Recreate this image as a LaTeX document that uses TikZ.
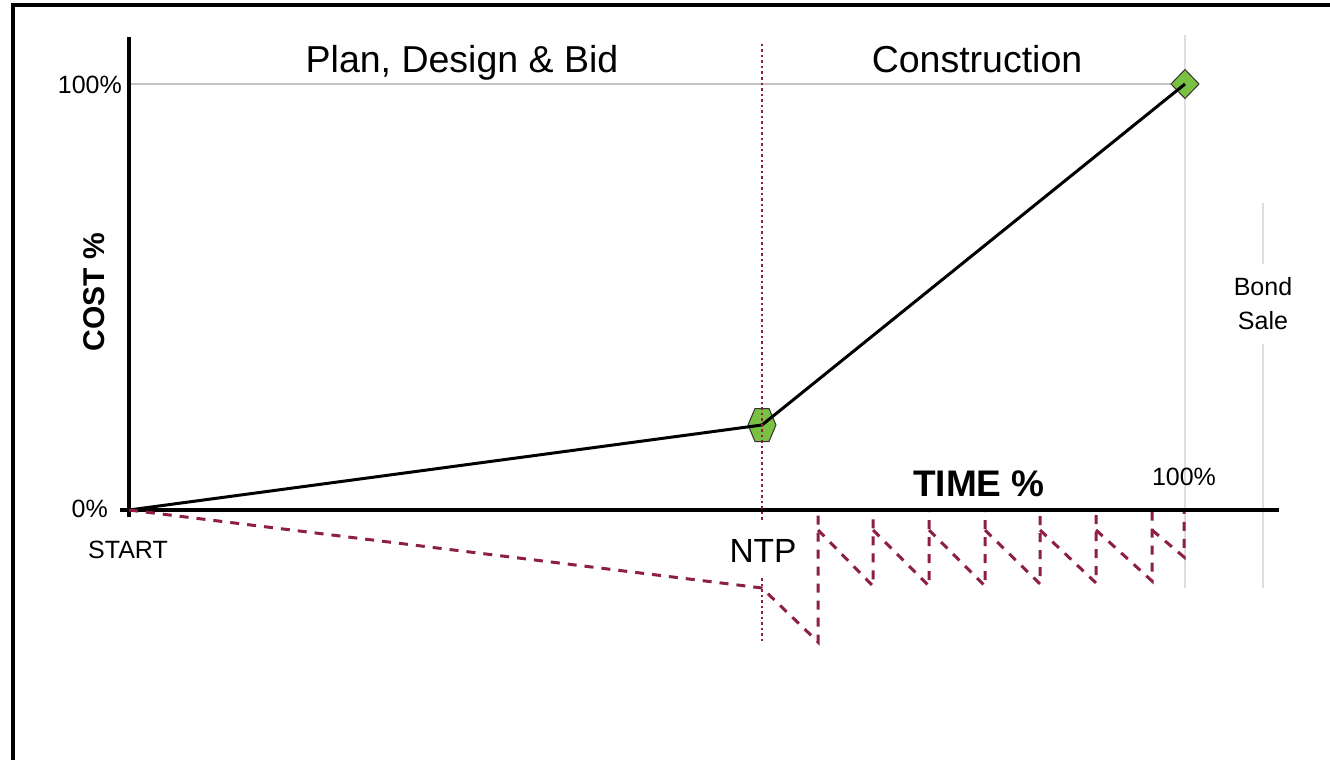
\documentclass[tikz,border=0pt]{standalone}
\usepackage{fontspec}
\setmainfont{Liberation Sans}
\definecolor{cashred}{RGB}{140,30,72}
\definecolor{mkgreen}{RGB}{122,193,67}
\definecolor{gridgray}{RGB}{196,196,196}
\definecolor{lightgray}{RGB}{222,222,222}
\begin{document}
\begin{tikzpicture}[x=1pt,y=-1pt,
  frame/.style={line width=3.5pt,black},
  axisline/.style={line width=3.2pt,black},
  gridline/.style={line width=2.2pt,gridgray},
  faintline/.style={line width=2.8pt,lightgray},
  dataline/.style={line width=3pt,black},
  ntpline/.style={line width=2.5pt,cashred,dash pattern=on 2.5pt off 3pt},
  cash/.style={line width=3pt,cashred,dash pattern=on 9pt off 8pt},
  marker/.style={fill=mkgreen,draw=black!80,line width=1pt,line join=miter},
  small/.style={font=\fontsize{25}{30}\selectfont,inner sep=0pt},
  phase/.style={font=\fontsize{37.5}{45}\selectfont,inner sep=0pt},
  axislabel/.style={font=\bfseries\fontsize{37}{44}\selectfont,inner sep=0pt}]
\useasboundingbox (0,0) rectangle (1330,760);
\fill[white] (0,0) rectangle (1330,760);
% frame
\draw[frame] (13,780) -- (13,5) -- (1350,5);
% key points
\coordinate (o) at (129,510);
\coordinate (ntp) at (762,425);
\coordinate (fin) at (1185,84);
\coordinate (yTop) at (129,37);
\coordinate (yBot) at (129,517);
\coordinate (xL) at (120,510);
\coordinate (xR) at (1279,510);
\coordinate (hundL) at (129,84);
\coordinate (endTop) at (1185,35);
\coordinate (endBot) at (1185,588);
\coordinate (bondTop) at (1263,203);
\coordinate (bondMidA) at (1263,264);
\coordinate (bondMidB) at (1263,344);
\coordinate (bondBot) at (1263,588);
\coordinate (ntpTop) at (762,44);
\coordinate (ntpGapA) at (762,522);
\coordinate (ntpGapB) at (762,578);
\coordinate (ntpBot) at (762,643);
\coordinate (c0) at (762,588);
\coordinate (b1) at (818,642);
\coordinate (v1) at (818,512);
% grey guide lines
\draw[gridline] (hundL) -- (fin);
\draw[faintline] (endTop) -- (endBot);
\draw[faintline] (bondTop) -- (bondMidA);
\draw[faintline] (bondMidB) -- (bondBot);
% axes
\draw[axisline] (yTop) -- (yBot);
\draw[axisline] (xL) -- (xR);
% markers
\draw[marker] (ntp) ++(-7,-16.5) -- ++(14,0) -- ++(7,16.5) -- ++(-7,16.5) -- ++(-14,0) -- ++(-7,-16.5) -- cycle;
\draw[marker] (fin) ++(0,-14.5) -- ++(14,14.5) -- ++(-14,14.5) -- ++(-14,-14.5) -- cycle;
% cost curve
\draw[dataline,line join=round] (o) -- (ntp) -- (fin);
% NTP line (broken around its label)
\draw[ntpline] (ntpTop) -- (ntpGapA);
\draw[ntpline] (ntpGapB) -- (ntpBot);
% cash flow sawtooth
\draw[cash] (o) -- (c0) -- (b1) -- (v1);
\foreach \xa/\xb/\yb [count=\i] in {818/873/586, 873/929/586, 929/985/586, 985/1040/584, 1040/1096/583, 1096/1152/581, 1152/1184/557}{
  \coordinate (s\i) at (\xa,530);
  \coordinate (d\i) at (\xb,\yb);
  \coordinate (u\i) at (\xb,512);
  \draw[cash] (s\i) -- (d\i) -- (u\i);
}
% labels
\node[phase,anchor=base] (plan) at (462,73) {Plan, Design \& Bid};
\node[phase,anchor=base] (constr) at (977,73) {Construction};
\node[small,anchor=base east] (y100) at (122,93) {100\%};
\node[small,anchor=base east] (y0) at (108,517) {0\%};
\node[small,anchor=base] (start) at (128,558) {START};
\node[axislabel,anchor=base] (time) at (979,496) {TIME \%};
\node[small,anchor=base] (x100) at (1184,485) {100\%};
\node[font=\fontsize{33.5}{40}\selectfont,inner sep=0pt,anchor=base] (ntplbl) at (763,562) {NTP};
\node[small,anchor=base] (bond) at (1263,295) {Bond};
\node[small,anchor=base] (sale) at (1263,329) {Sale};
\node[font=\bfseries\fontsize{30}{36}\selectfont,inner sep=0pt,anchor=base,rotate=90] (cost) at (104,292) {COST \%};
\end{tikzpicture}
\end{document}
